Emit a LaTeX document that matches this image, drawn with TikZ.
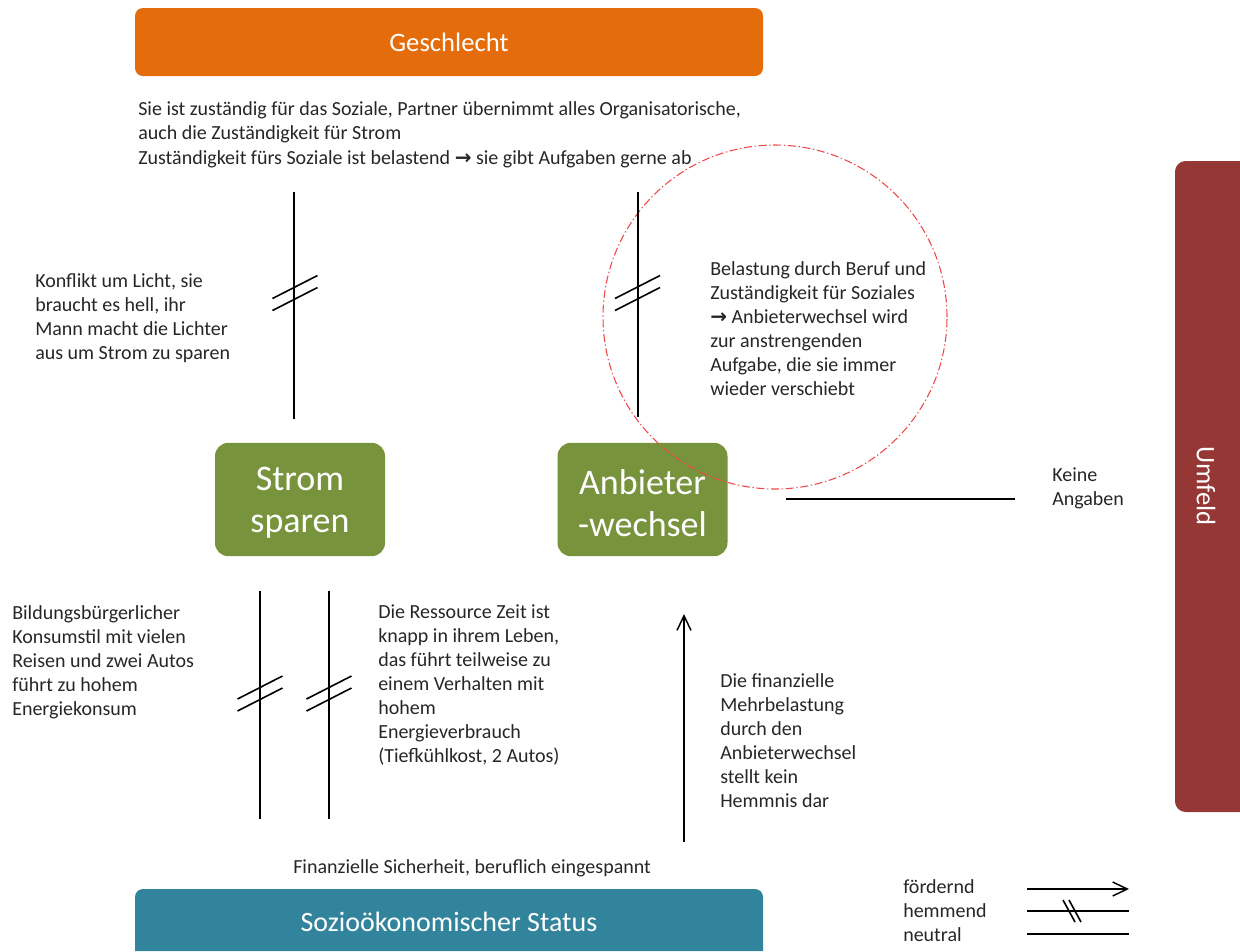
\documentclass[tikz,border=0pt]{standalone}
\usepackage{fontspec}
\setmainfont{Carlito}
\newfontfamily\arrowfont{DejaVu Sans}
\usetikzlibrary{arrows.meta}

\definecolor{orangebox}{HTML}{E46C0A}
\definecolor{greenbox}{HTML}{77933C}
\definecolor{tealbox}{HTML}{31849B}
\definecolor{redbar}{HTML}{953735}
\definecolor{txt}{HTML}{262626}
\definecolor{ringred}{HTML}{F04848}

\newcommand{\thenarrow}{{\arrowfont\bfseries →}}

\begin{document}
\begin{tikzpicture}[x=0.75pt,y=-0.75pt,
  conn/.style={line width=1.2pt, black},
  promo/.style={conn, -{Straight Barb[length=11pt,width=10.5pt,line width=1.1pt]}},
  body/.style={anchor=north west, inner sep=0pt, align=left, text=txt,
    font=\fontsize{15}{18}\selectfont, execute at begin node=\strut},
  titlebox/.style={fill=#1, text=white, inner sep=0pt,
    font=\fontsize{20}{24}\selectfont},
  actbox/.style={fill=greenbox, rounded corners=10pt,
    minimum width=127.5pt, minimum height=85pt, inner sep=0pt},
  acttext/.style={text=white, align=center, inner sep=0pt,
    font=\fontsize{27}{31.5}\selectfont},
  pics/hemmung/.style={code={
    \draw[conn] (-22.5,5.5) -- (22.5,-17.5);
    \draw[conn] (-22.5,17.5) -- (22.5,-5.5);}}
]
\useasboundingbox (0,0) rectangle (1240,951);

% category boxes
\node[titlebox=orangebox, rounded corners=6pt, minimum width=471pt, minimum height=51pt]
  (gender) at (449,42) {Geschlecht};
\path[fill=tealbox] (135,951) [rounded corners=6pt]-- (135,889) -- (763,889) [sharp corners]-- (763,951) -- cycle;
\node[text=white, font=\fontsize{21}{25}\selectfont] (status) at (449,922) {Sozioökonomischer Status};
\path[fill=redbar] (1240,161) [rounded corners=8pt]-- (1175,161) -- (1175,812) [sharp corners]-- (1240,812) -- cycle;
\node[text=white, rotate=-90, font=\fontsize{20}{24}\selectfont] (env) at (1206,486) {Umfeld};

% behaviour boxes
\node[actbox] (save) at (300,499.5) {};
\node[acttext] (savetext) at (300,503) {Strom\\sparen};
\node[actbox] (switch) at (642.5,499.5) {};
\node[acttext] (switchtext) at (642.5,503) {Anbieter\\-wechsel};

% highlighted area
\draw[ringred, line width=0.8pt, dash pattern=on 6pt off 2pt on 1pt off 2pt] (775,317) circle [radius=129pt];

% texts
\node[body, font=\fontsize{15}{18.4}\selectfont] (tgender) at (138,101)
  {Sie ist zuständig für das Soziale, Partner übernimmt alles Organisatorische,\\
   auch die Zuständigkeit für Strom\\
   Zuständigkeit fürs Soziale ist belastend \thenarrow{} sie gibt Aufgaben gerne ab};
\node[body] (tconflict) at (35,273)
  {Konflikt um Licht, sie\\braucht es hell, ihr\\Mann macht die Lichter\\aus um Strom zu sparen};
\node[body] (tload) at (710,261)
  {Belastung durch Beruf und\\Zuständigkeit für Soziales\\\thenarrow{} Anbieterwechsel wird\\zur anstrengenden\\Aufgabe, die sie immer\\wieder verschiebt};
\node[body] (tnone) at (1052,467) {Keine\\Angaben};
\node[body] (tlife) at (12,605)
  {Bildungsbürgerlicher\\Konsumstil mit vielen\\Reisen und zwei Autos\\führt zu hohem\\Energiekonsum};
\node[body] (ttime) at (378,604)
  {Die Ressource Zeit ist\\knapp in ihrem Leben,\\das führt teilweise zu\\einem Verhalten mit\\hohem\\Energieverbrauch\\(Tiefkühlkost, 2 Autos)};
\node[body] (tmoney) at (720,673)
  {Die finanzielle\\Mehrbelastung\\durch den\\Anbieterwechsel\\stellt kein\\Hemmnis dar};
\node[body] (tstatus) at (293,856) {Finanzielle Sicherheit, beruflich eingespannt};

% connectors
\coordinate (g1a) at (294,192); \coordinate (g1b) at (294,419);
\coordinate (g2a) at (638,192); \coordinate (g2b) at (638,417);
\coordinate (s1a) at (260,591); \coordinate (s1b) at (260,819);
\coordinate (s2a) at (329,591); \coordinate (s2b) at (329,819);
\coordinate (s3a) at (684,842); \coordinate (s3b) at (684,614);
\coordinate (u1a) at (786,499); \coordinate (u1b) at (1015,499);

\draw[conn] (g1a) -- (g1b);
\draw[conn] (g2a) -- (g2b);
\draw[conn] (s1a) -- (s1b);
\draw[conn] (s2a) -- (s2b);
\draw[promo] (s3a) -- (s3b);
\draw[conn] (u1a) -- (u1b);
\pic at (295,293) {hemmung};
\pic at (637.5,293) {hemmung};
\pic at (260,693.5) {hemmung};
\pic at (329,693.5) {hemmung};

% legend
\node[body] (lgtext) at (903,879) {fördernd\\hemmend\\neutral};
\coordinate (l1a) at (1027,889); \coordinate (l1b) at (1129,889);
\coordinate (l2a) at (1027,911); \coordinate (l2b) at (1129,911);
\coordinate (l3a) at (1027,934); \coordinate (l3b) at (1129,934);
\draw[promo] (l1a) -- (l1b);
\draw[conn] (l2a) -- (l2b);
\draw[conn] (l3a) -- (l3b);
\draw[conn] (1063,900) -- (1075,922);
\draw[conn] (1069,900) -- (1081,922);
\end{tikzpicture}
\end{document}
